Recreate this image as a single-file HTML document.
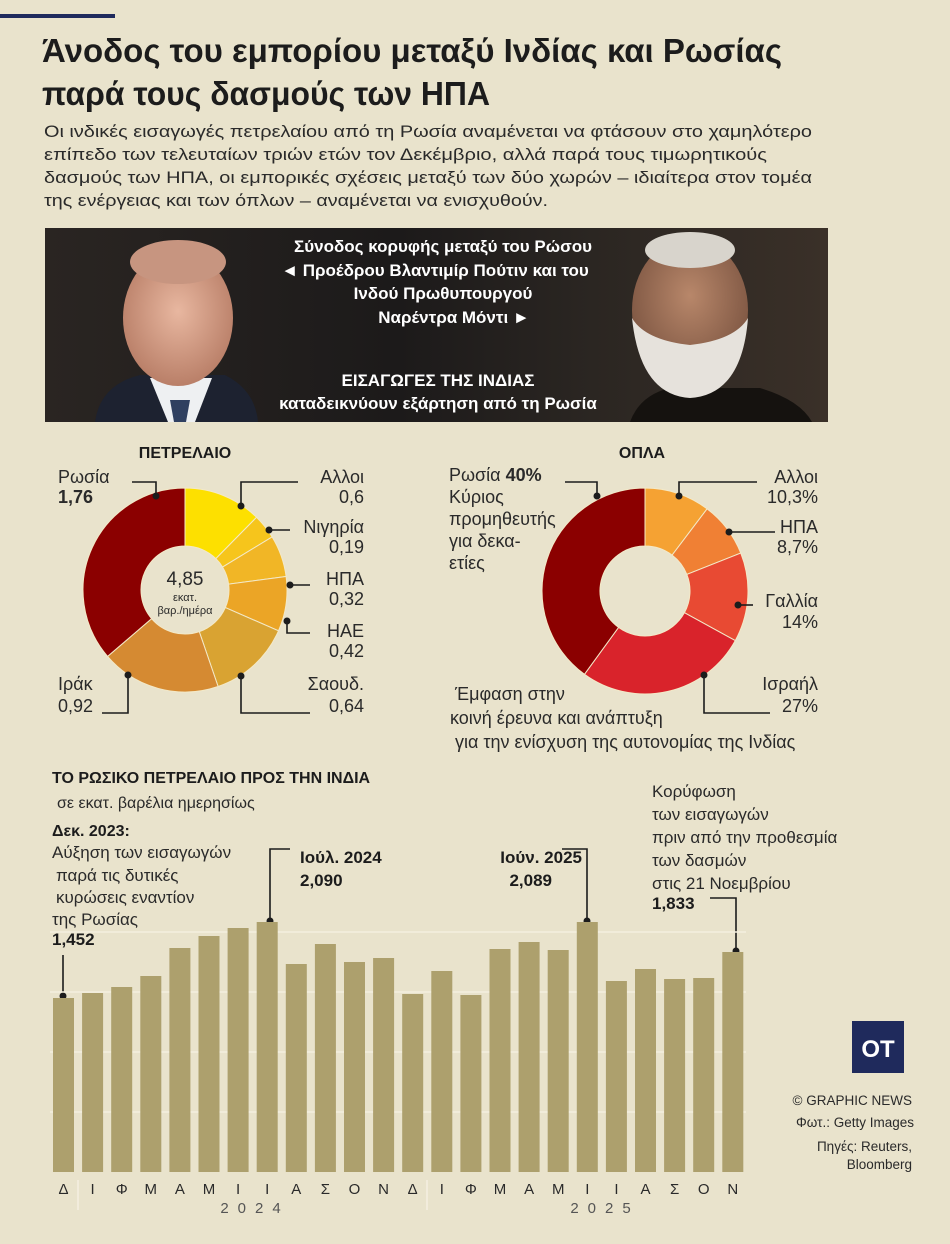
<!DOCTYPE html>
<html><head><meta charset="utf-8">
<style>
html,body{margin:0;padding:0;background:#e9e3cc;}
svg{display:block;font-family:"Liberation Sans","DejaVu Sans",sans-serif;}
</style></head>
<body>
<svg id="s" width="950" height="1244" viewBox="0 0 950 1244" xmlns="http://www.w3.org/2000/svg">
<defs>
<linearGradient id="bg" x1="0" y1="0" x2="1" y2="0">
<stop offset="0" stop-color="#2a2522"/><stop offset="0.45" stop-color="#1c1a1a"/><stop offset="0.7" stop-color="#2b2622"/><stop offset="1" stop-color="#3a3028"/></linearGradient>
<radialGradient id="skin1" cx="0.5" cy="0.45" r="0.6"><stop offset="0" stop-color="#e8b7a0"/><stop offset="1" stop-color="#b57a63"/></radialGradient>
<radialGradient id="skin2" cx="0.5" cy="0.4" r="0.6"><stop offset="0" stop-color="#b8876a"/><stop offset="1" stop-color="#7a5340"/></radialGradient>
</defs>
<rect width="950" height="1244" fill="#e9e3cc"/>
<rect x="0" y="14" width="115" height="4" fill="#1f2a5c"/>
<g fill="#1c1c1c">
<text x="42" y="62" font-size="33" font-weight="bold" textLength="740" lengthAdjust="spacingAndGlyphs">Άνοδος του εμπορίου μεταξύ Ινδίας και Ρωσίας</text>
<text x="42" y="105" font-size="33" font-weight="bold" textLength="448" lengthAdjust="spacingAndGlyphs">παρά τους δασμούς των ΗΠΑ</text>
<g font-size="17" fill="#2a2a2a">
<text x="44" y="137" textLength="768" lengthAdjust="spacingAndGlyphs">Οι ινδικές εισαγωγές πετρελαίου από τη Ρωσία αναμένεται να φτάσουν στο χαμηλότερο</text>
<text x="44" y="160" textLength="723" lengthAdjust="spacingAndGlyphs">επίπεδο των τελευταίων τριών ετών τον Δεκέμβριο, αλλά παρά τους τιμωρητικούς</text>
<text x="44" y="183" textLength="768" lengthAdjust="spacingAndGlyphs">δασμούς των ΗΠΑ, οι εμπορικές σχέσεις μεταξύ των δύο χωρών – ιδιαίτερα στον τομέα</text>
<text x="44" y="206" textLength="504" lengthAdjust="spacingAndGlyphs">της ενέργειας και των όπλων – αναμένεται να ενισχυθούν.</text>
</g></g>
<!-- photo -->
<rect x="45" y="228" width="783" height="194" fill="url(#bg)"/>
<path d="M95 422 Q100 385 140 375 L225 375 Q255 390 258 422Z" fill="#1d2230"/>
<path d="M150 378 L168 422 L195 422 L212 378Z" fill="#eef0f2"/>
<path d="M170 400 L190 400 L186 422 L174 422Z" fill="#2f4060"/>
<ellipse cx="178" cy="318" rx="55" ry="68" fill="url(#skin1)"/>
<ellipse cx="178" cy="262" rx="48" ry="22" fill="#c79580"/>
<path d="M630 422 Q640 395 670 388 L760 388 Q800 400 812 422Z" fill="#15120f"/>
<ellipse cx="690" cy="310" rx="58" ry="72" fill="url(#skin2)"/>
<path d="M632 318 Q640 395 690 398 Q742 395 748 318 Q735 340 690 345 Q645 340 632 318Z" fill="#e6e2dc"/>
<ellipse cx="690" cy="250" rx="45" ry="18" fill="#d8d4cc"/>
<g fill="#fff" font-size="17" font-weight="bold" text-anchor="middle">
<text x="443" y="252">Σύνοδος κορυφής μεταξύ του Ρώσου</text>
<text x="435" y="276">◄ Προέδρου Βλαντιμίρ Πούτιν και του</text>
<text x="443" y="299">Ινδού Πρωθυπουργού</text>
<text x="454" y="323">Ναρέντρα Μόντι  ►</text>
<text x="438" y="386">ΕΙΣΑΓΩΓΕΣ ΤΗΣ ΙΝΔΙΑΣ</text>
<text x="438" y="409">καταδεικνύουν εξάρτηση από τη Ρωσία</text>
</g>
<g font-size="16" font-weight="bold" fill="#1c1c1c" text-anchor="middle">
<text x="185" y="458">ΠΕΤΡΕΛΑΙΟ</text>
<text x="642" y="458">ΟΠΛΑ</text>
</g>
<g id="d1"></g><g id="d2"></g>
<g font-size="17" fill="#2a2a2a" text-anchor="middle">
<text x="185" y="585" font-size="19">4,85</text>
<text x="185" y="601" font-size="11">εκατ.</text>
<text x="185" y="614" font-size="11">βαρ./ημέρα</text>
</g>
<g stroke="#1c1c1c" stroke-width="1.6" fill="none">
<path d="M156 496 V482 H132"/><path d="M241 506 V482 H298"/><path d="M269 530 H290"/>
<path d="M290 585 H310"/><path d="M287 621 V633 H310"/><path d="M241 676 V713 H310"/><path d="M128 675 V713 H102"/>
<path d="M597 496 V482 H565"/><path d="M679 496 V482 H757"/><path d="M729 532 H775"/>
<path d="M738 605 H753"/><path d="M704 675 V713 H770"/>
<path d="M63 955 V996"/><path d="M290 849 H270 V920"/><path d="M562 849 H587 V920"/><path d="M710 898 H736 V950"/>
</g>
<g fill="#1c1c1c">
<circle cx="156" cy="496" r="3.5"/><circle cx="241" cy="506" r="3.5"/><circle cx="269" cy="530" r="3.5"/><circle cx="290" cy="585" r="3.5"/><circle cx="287" cy="621" r="3.5"/><circle cx="241" cy="676" r="3.5"/><circle cx="128" cy="675" r="3.5"/>
<circle cx="597" cy="496" r="3.5"/><circle cx="679" cy="496" r="3.5"/><circle cx="729" cy="532" r="3.5"/><circle cx="738" cy="605" r="3.5"/><circle cx="704" cy="675" r="3.5"/>
<circle cx="63" cy="996" r="3.5"/><circle cx="270" cy="921" r="3.5"/><circle cx="587" cy="921" r="3.5"/><circle cx="736" cy="951" r="3.5"/>
</g>
<g font-size="18" fill="#2a2a2a">
<g text-anchor="end">
<text x="364" y="483">Αλλοι</text><text x="364" y="503">0,6</text>
<text x="364" y="533">Νιγηρία</text><text x="364" y="553">0,19</text>
<text x="364" y="585">ΗΠΑ</text><text x="364" y="605">0,32</text>
<text x="364" y="637">ΗΑΕ</text><text x="364" y="657">0,42</text>
<text x="364" y="690">Σαουδ.</text><text x="364" y="712">0,64</text>
<text x="818" y="483">Αλλοι</text><text x="818" y="503">10,3%</text>
<text x="818" y="533">ΗΠΑ</text><text x="818" y="553">8,7%</text>
<text x="818" y="607">Γαλλία</text><text x="818" y="628">14%</text>
<text x="818" y="690">Ισραήλ</text><text x="818" y="712">27%</text>
</g>
<text x="58" y="483">Ρωσία</text><text x="58" y="503" font-weight="bold">1,76</text>
<text x="58" y="690">Ιράκ</text><text x="58" y="712">0,92</text>
<text x="449" y="481">Ρωσία <tspan font-weight="bold">40%</tspan></text>
<text x="449" y="503">Κύριος</text><text x="449" y="525">προμηθευτής</text><text x="449" y="547">για δεκα-</text><text x="449" y="569">ετίες</text>
<text x="455" y="700">Έμφαση στην</text>
<text x="450" y="724">κοινή έρευνα και ανάπτυξη</text>
<text x="455" y="748">για την ενίσχυση της αυτονομίας της Ινδίας</text>
</g>
<g id="bars"></g>
<g fill="#1c1c1c">
<text x="52" y="783" font-size="16" font-weight="bold">ΤΟ ΡΩΣΙΚΟ ΠΕΤΡΕΛΑΙΟ ΠΡΟΣ ΤΗΝ ΙΝΔΙΑ</text>
<text x="57" y="808" font-size="16" fill="#2a2a2a">σε εκατ. βαρέλια ημερησίως</text>
<text x="52" y="836" font-size="16" font-weight="bold">Δεκ. 2023:</text>
<g font-size="17" fill="#2a2a2a">
<text x="52" y="858">Αύξηση των εισαγωγών</text>
<text x="56" y="881">παρά τις δυτικές</text>
<text x="56" y="903">κυρώσεις εναντίον</text>
<text x="52" y="925">της Ρωσίας</text>
<text x="652" y="797">Κορύφωση</text>
<text x="652" y="820">των εισαγωγών</text>
<text x="652" y="843">πριν από την προθεσμία</text>
<text x="652" y="866">των δασμών</text>
<text x="652" y="889">στις 21 Νοεμβρίου</text>
</g>
<g font-size="17" font-weight="bold">
<text x="52" y="945">1,452</text>
<text x="300" y="863">Ιούλ. 2024</text><text x="300" y="886">2,090</text>
<text x="582" y="863" text-anchor="end">Ιούν. 2025</text><text x="552" y="886" text-anchor="end">2,089</text>
<text x="652" y="909">1,833</text>
</g>
</g>
<rect x="852" y="1021" width="52" height="52" fill="#1f2a5c"/>
<text x="878" y="1057" font-size="24" font-weight="bold" fill="#fff" text-anchor="middle">OT</text>
<g font-size="13.5" fill="#2a2a2a" text-anchor="end">
<text x="912" y="1105">© GRAPHIC NEWS</text>
<text x="914" y="1127">Φωτ.: Getty Images</text>
<text x="912" y="1151">Πηγές: Reuters,</text>
<text x="912" y="1169">Bloomberg</text>
</g>
</svg>
<script>
var NS="http://www.w3.org/2000/svg";
function el(p,t,a,txt){var e=document.createElementNS(NS,t);for(var k in a)e.setAttribute(k,a[k]);if(txt)e.textContent=txt;p.appendChild(e);return e;}
function donut(g,cx,cy,R,r,vals,cols){var tot=vals.reduce(function(a,b){return a+b},0),a=-Math.PI/2;
vals.forEach(function(v,i){var b=a+v/tot*2*Math.PI,l=(b-a)>Math.PI?1:0;
var p="M"+(cx+R*Math.cos(a))+" "+(cy+R*Math.sin(a))+"A"+R+" "+R+" 0 "+l+" 1 "+(cx+R*Math.cos(b))+" "+(cy+R*Math.sin(b))+"L"+(cx+r*Math.cos(b))+" "+(cy+r*Math.sin(b))+"A"+r+" "+r+" 0 "+l+" 0 "+(cx+r*Math.cos(a))+" "+(cy+r*Math.sin(a))+"Z";
el(g,"path",{d:p,fill:cols[i],stroke:"#f3e9c8","stroke-width":"1"});a=b;});}
donut(document.getElementById("d1"),185,590,102,44,[0.6,0.19,0.32,0.42,0.64,0.92,1.76],["#fde000","#f6c51c","#f1b626","#eba526","#d9a332","#d58a32","#8b0000"]);
donut(document.getElementById("d2"),645,591,103,45,[10.3,8.7,14,27,40],["#f5a233","#f08034","#e84a33","#d9232b","#8b0000"]);
var g=document.getElementById("bars");
var tops=[998,993,987,976,948,936,928,922,964,944,962,958,994,971,995,949,942,950,922,981,969,979,978,952];
[932,992,1052,1112].forEach(function(y){el(g,"line",{x1:50,x2:746,y1:y,y2:y,stroke:"#f4efdf","stroke-width":"1.5"});});
tops.forEach(function(t,i){var x=53+i*29.1;el(g,"rect",{x:x,y:t,width:21,height:1172-t,fill:"#ada06d"});});
var lab="ΔΙΦΜΑΜΙΙΑΣΟΝΔΙΦΜΑΜΙΙΑΣΟΝ";
for(var i=0;i<24;i++)el(g,"text",{x:63.5+i*29.1,y:1194,"font-size":"15","text-anchor":"middle",fill:"#2a2a2a"},lab[i]);
el(g,"line",{x1:78,x2:78,y1:1180,y2:1210,stroke:"#f7f3e6","stroke-width":"1.2"});
el(g,"line",{x1:427,x2:427,y1:1180,y2:1210,stroke:"#f7f3e6","stroke-width":"1.2"});
el(g,"text",{x:255,y:1213,"font-size":"15","text-anchor":"middle",fill:"#555","letter-spacing":"9"},"2024");
el(g,"text",{x:605,y:1213,"font-size":"15","text-anchor":"middle",fill:"#555","letter-spacing":"9"},"2025");
</script>
</body></html>
